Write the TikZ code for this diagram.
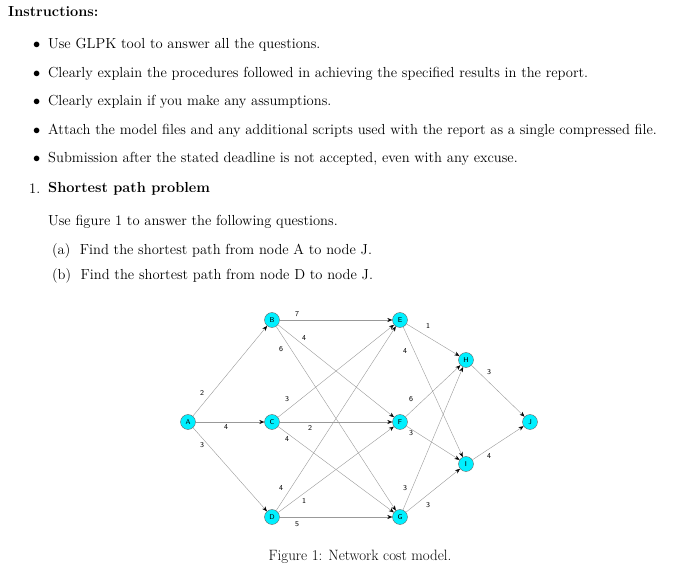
\documentclass[tikz,border=0pt]{standalone}
\usepackage{tikz}
\usetikzlibrary{arrows.meta}
\definecolor{nodecyan}{RGB}{0,240,255}
\tikzstyle{vertex}=[circle, draw=black!60, fill=nodecyan, inner sep=0pt, minimum size=15pt, font=\sffamily\fontsize{7}{8}\selectfont]
\tikzstyle{line}=[anchor=west, inner sep=0pt, font=\fontsize{14.6}{17}\selectfont]
\tikzstyle{cost}=[font=\sffamily\fontsize{7.5}{9}\selectfont, inner sep=1pt]

\begin{document}
\begin{tikzpicture}[x=1bp, y=-1bp]
\useasboundingbox (0,0) rectangle (690,575);
% Text
    \node[line] (title) at (8,12) {\textbf{Instructions:}};
    \foreach \yy/\txt in {45/{Use GLPK tool to answer all the questions.},
        74/{Clearly explain the procedures followed in achieving the specified results in the report.},
        102/{Clearly explain if you make any assumptions.},
        131/{Attach the model files and any additional scripts used with the report as a single compressed file.},
        159/{Submission after the stated deadline is not accepted, even with any excuse.}}
        {\node[line] at (33,\yy) {$\bullet$};
         \node[line] at (48,\yy) {\txt};}
    \node[line] (num) at (29,189) {1.};
    \node[line] (prob) at (48,189) {\textbf{Shortest path problem}};
    \node[line] (use) at (48,222) {Use figure 1 to answer the following questions.};
    \node[line] (qa) at (52,251) {(a)\ \ Find the shortest path from node A to node J.};
    \node[line] (qb) at (52,276) {(b)\ \ Find the shortest path from node D to node J.};
% Nodes
    \node[vertex] (A) at (188,422) {A};
    \node[vertex] (B) at (272,320) {B};
    \node[vertex] (C) at (272,422) {C};
    \node[vertex] (D) at (272,517) {D};
    \node[vertex] (E) at (400,320) {E};
    \node[vertex] (F) at (400,422) {F};
    \node[vertex] (G) at (400,517) {G};
    \node[vertex] (H) at (466,360) {H};
    \node[vertex] (I) at (466,464) {I};
    \node[vertex] (J) at (530,422) {J};
% Edges
    \foreach \s/\t in {A/B,A/C,A/D,B/E,B/F,B/G,C/E,C/F,C/G,D/E,D/F,D/G,E/H,E/I,F/H,F/I,G/H,G/I,H/J,I/J}
        \draw[black!40, -{Stealth[black, length=5pt, width=4pt]}] (\s) -- (\t);
% Costs
    \foreach \c/\x/\y in {2/202/393, 4/226/427, 3/202/445, 7/297/314, 4/304/338, 6/281/349,
        3/287/399, 2/310/428, 4/287/439, 4/281/488, 1/304/501, 5/297/524,
        1/428/326, 4/405/351, 6/411/399, 3/411/433, 3/405/488, 3/428/505, 3/489/372, 4/489/456}
        \node[cost] at (\x,\y) {\c};
    \node[font=\fontsize{15}{17}\selectfont] (cap) at (360,557) {Figure 1: Network cost model.};
\end{tikzpicture}
\end{document}
